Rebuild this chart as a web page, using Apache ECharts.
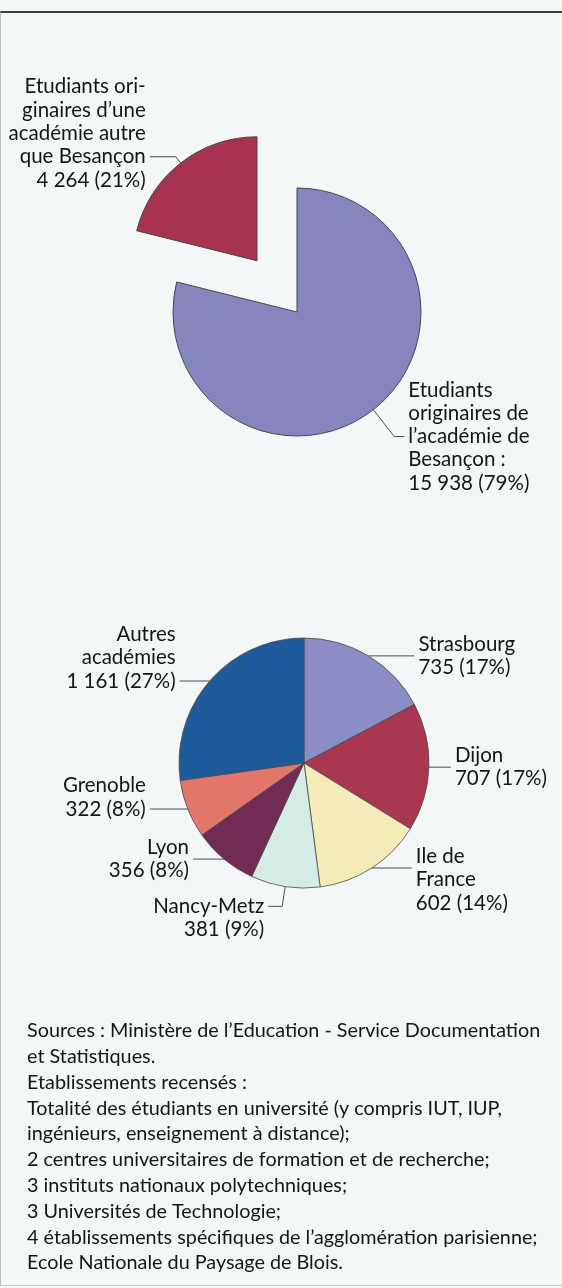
<!DOCTYPE html>
<html>
<head>
<meta charset="utf-8">
<script src="https://cdn.jsdelivr.net/npm/echarts@6/dist/echarts.min.js"></script>
<style>
  html, body { margin: 0; padding: 0; background: #f4f7f7; }
  #frame { position: absolute; left: 0; top: 11px; width: 562px; height: 1275px;
           border-top: 2px solid #3c3c3c; border-left: 1px solid #b8bcbc; border-bottom: 1px solid #c4c8c8; box-sizing: border-box; }
  #chart { position: absolute; left: 0; top: 0; width: 562px; height: 1288px; }
</style>
</head>
<body>
<div id="frame"></div>
<div id="chart"></div>
<script>
// ---- Data: pie 1 (origine des étudiants) ----
const pie1Names = [
  "Etudiants\noriginaires de\nl\u2019académie de\nBesançon :",
  "Etudiants ori-\nginaires d\u2019une\nacadémie autre\nque Besançon"
];
const pie1Values = [15938, 4264];
const pie1Colors = ["#8686bf", "#a8334f"];

// ---- Data: pie 2 (académies d'origine) ----
const pie2Names = ["Strasbourg", "Dijon", "Ile de\nFrance", "Nancy-Metz", "Lyon", "Grenoble", "Autres\nacadémies"];
const pie2Values = [735, 707, 602, 381, 356, 322, 1161];
const pie2Colors = ["#8b8dc6", "#a8374f", "#f4ebb9", "#d5ebe6", "#722b55", "#e3766a", "#1f5b9b"];

// ---- Source notes ----
const sourceLines = [
  "Sources : Ministère de l\u2019Education - Service Documentation",
  "et Statistiques.",
  "Etablissements recensés :",
  "Totalité des étudiants en université (y compris IUT, IUP,",
  "ingénieurs, enseignement à distance);",
  "2 centres universitaires de formation et de recherche;",
  "3 instituts nationaux polytechniques;",
  "3 Universités de Technologie;",
  "4 établissements spécifiques de l\u2019agglomération parisienne;",
  "Ecole Nationale du Paysage de Blois."
];

const FONT = 'Lato, "Noto Sans", sans-serif';
const LH = 23.3;
function fmt(v) { return String(v).replace(/\B(?=(\d{3})+(?!\d))/g, ' '); }
function blanks(n) { let s = ''; for (let k = 0; k < n; k++) s += ' \n'; return s; }
function blanksAfter(n) { let s = ''; for (let k = 0; k < n; k++) s += '\n '; return s; }

// label-line geometry per slice: length, length2, blank lines above / below the text
const pie1Lines = [
  { length: 34, length2: 10, above: 0, below: 0 },
  { length: 8, length2: 26, above: 0, below: 2 }
];
const pie2Lines = [
  { length: 0, length2: 46, above: 0, below: 0 },
  { length: 0, length2: 22, above: 0, below: 0 },
  { length: 0, length2: 40, above: 1, below: 0 },
  { length: 20, length2: 14, above: 1, below: 0 },
  { length: 0, length2: 31, above: 0, below: 0 },
  { length: 0, length2: 38, above: 0, below: 1 },
  { length: 0, length2: 30, above: 0, below: 2 }
];

function makeLabel(cfg) {
  return {
    formatter: p => blanks(cfg.above) + p.name + '\n' + fmt(p.value) + ' (' + p.percent + '%)' + blanksAfter(cfg.below)
  };
}

const labelBase = {
  show: true, position: 'outside', color: '#151515',
  fontFamily: FONT, fontSize: 20.5, lineHeight: LH,
  distanceToLabelLine: 4
};
const lineStyle = { color: '#4d4d4d', width: 1 };

const data1 = pie1Values.map((v, i) => ({
  name: pie1Names[i], value: v, selected: i === 1,
  itemStyle: { color: pie1Colors[i] },
  label: makeLabel(pie1Lines[i]),
  labelLine: { length: pie1Lines[i].length, length2: pie1Lines[i].length2 }
}));
const data2 = pie2Values.map((v, i) => ({
  name: pie2Names[i], value: v,
  itemStyle: { color: pie2Colors[i] },
  label: makeLabel(pie2Lines[i]),
  labelLine: { length: pie2Lines[i].length, length2: pie2Lines[i].length2 }
}));

const chart = echarts.init(document.getElementById('chart'), null, { renderer: 'canvas' });
chart.setOption({
  backgroundColor: 'transparent',
  animation: false,
  series: [
    {
      type: 'pie', center: [297, 312], radius: 124, startAngle: 90, clockwise: true,
      selectedMode: 'single', selectedOffset: 65, percentPrecision: 0,
      avoidLabelOverlap: false, silent: true,
      labelLayout: { hideOverlap: false },
      itemStyle: { borderColor: '#454545', borderWidth: 1 },
      label: labelBase,
      labelLine: { show: true, lineStyle: lineStyle },
      emphasis: { disabled: true },
      data: data1
    },
    {
      type: 'pie', center: [304, 763], radius: 125, startAngle: 90, clockwise: true,
      percentPrecision: 0, avoidLabelOverlap: false, silent: true,
      labelLayout: { hideOverlap: false },
      itemStyle: { borderColor: '#4a4a4a', borderWidth: 0.8 },
      label: labelBase,
      labelLine: { show: true, lineStyle: lineStyle },
      emphasis: { disabled: true },
      data: data2
    }
  ],
  graphic: [{
    type: 'text', left: 27, top: 1018, silent: true,
    style: {
      text: sourceLines.join('\n'), fill: '#151515',
      font: '19.8px ' + FONT, lineHeight: 25.8
    }
  }]
});
</script>
</body>
</html>
